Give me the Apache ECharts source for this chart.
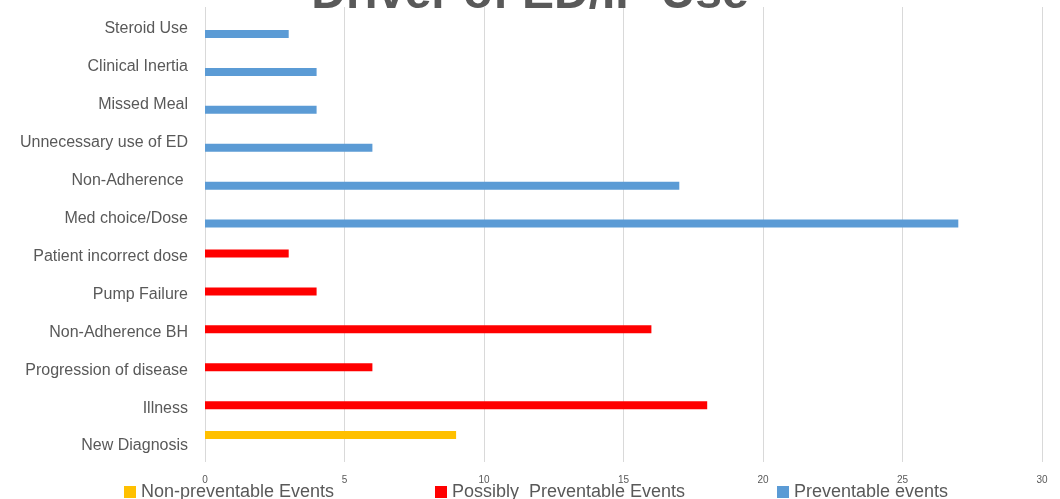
<!DOCTYPE html>
<html>
<head>
<meta charset="utf-8">
<script src="https://cdn.jsdelivr.net/npm/echarts@6/dist/echarts.min.js"></script>
<style>
  html, body { margin: 0; padding: 0; background: #fff; }
  #chart { width: 1060px; height: 499px; }
</style>
</head>
<body>
<div id="chart"></div>
<script>
// categories, bottom to top
const categories = ['New Diagnosis', 'Illness', 'Progression of disease', 'Non-Adherence BH', 'Pump Failure',
  'Patient incorrect dose', 'Med choice/Dose', 'Non-Adherence ', 'Unnecessary use of ED', 'Missed Meal',
  'Clinical Inertia', 'Steroid Use']
const nonPreventable = [9, null, null, null, null, null, null, null, null, null, null, null]
const possiblyPreventable = [null, 18, 6, 16, 4, 3, null, null, null, null, null, null]
const preventable = [null, null, null, null, null, null, 27, 17, 6, 4, 4, 3]
const seriesNames = ['Non-preventable Events', 'Possibly  Preventable Events', 'Preventable events']
const colors = ['#FFC000', '#FF0000', '#5B9BD5']

const font = 'Liberation Sans'
const mychart = echarts.init(document.getElementById('chart'))

// 图例分开放，位置好控制
const legendLeft = [119, 430, 772]
const legends = seriesNames.map((name, i) => ({
  data: [name],
  left: legendLeft[i],
  top: 478,
  icon: 'rect',
  itemWidth: 12,
  itemHeight: 12,
  itemGap: 6,
  textStyle: { fontFamily: font, fontSize: 18, color: '#595959' }
}))

mychart.setOption({
  animation: false,
  color: colors,
  title: {
    text: 'Driver of ED/IP Use',
    left: 'center',
    top: -34,
    textStyle: { fontFamily: font, fontSize: 48, color: '#595959', fontWeight: 'bold' }
  },
  legend: legends,
  grid: { left: 205, right: 18, top: 7, bottom: 37 },
  xAxis: {
    type: 'value',
    min: 0,
    max: 30,
    interval: 5,
    axisLine: { show: false },
    axisTick: { show: false },
    splitLine: { lineStyle: { color: '#d9d9d9' } },
    axisLabel: { fontFamily: font, fontSize: 10, color: '#595959', margin: 13 }
  },
  yAxis: {
    type: 'category',
    data: categories,
    axisLine: { show: false },
    axisTick: { show: false },
    // 文字稍微往下一点
    axisLabel: { fontFamily: font, fontSize: 16, color: '#595959', margin: 17, verticalAlign: 'top', lineHeight: 6 }
  },
  series: [
    { name: seriesNames[0], type: 'bar', data: nonPreventable, barWidth: 8, barGap: '0%' },
    { name: seriesNames[1], type: 'bar', data: possiblyPreventable, barWidth: 8, barGap: '0%' },
    { name: seriesNames[2], type: 'bar', data: preventable, barWidth: 8, barGap: '0%' }
  ]
})
</script>
</body>
</html>
